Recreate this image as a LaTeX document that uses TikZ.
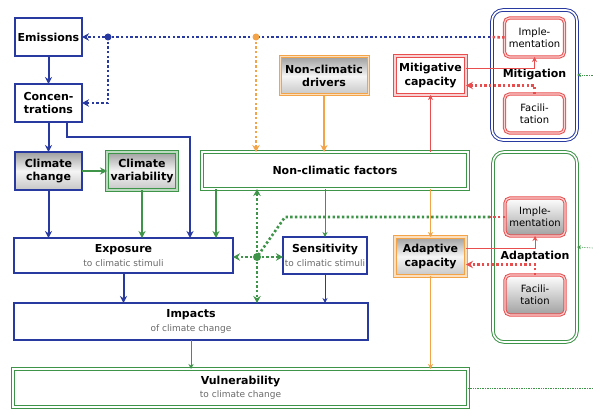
\documentclass[tikz,border=0pt]{standalone}
\usepackage{fontspec}
\setmainfont{DejaVu Sans}
\usetikzlibrary{positioning,arrows.meta,calc}
\definecolor{climblue}{RGB}{40,58,160}
\definecolor{factgreen}{RGB}{62,148,72}
\definecolor{driverorange}{RGB}{243,163,72}
\definecolor{policyred}{RGB}{232,78,78}
\definecolor{subgray}{RGB}{105,105,105}
\newcommand{\subline}[1]{{\fontsize{9}{11}\selectfont\mdseries\color{subgray}#1}}

\begin{document}
\begin{tikzpicture}[x=1pt, y=1pt, node distance=28pt and 25pt, >=Stealth,
		bigtext/.style={font=\fontsize{11}{13.5}\selectfont\bfseries},
		shadeFill/.style={top color=gray!75, bottom color=gray!45, middle color=gray!8},
		shadeDown/.style={top color=white, bottom color=gray!75},
		climbox/.style={draw=climblue, line width=2.6pt, rectangle, minimum width=67pt, minimum height=38pt, inner sep=1pt, outer sep=0pt, align=center, bigtext},
		varbox/.style={draw=factgreen, double=factgreen!35, double distance=1.2pt, line width=1pt, rectangle, minimum width=70pt, minimum height=38pt, inner sep=1pt, outer sep=0pt, align=center, bigtext, shadeFill},
		respbox/.style={draw=climblue, line width=1.1pt, rectangle, minimum height=35pt, inner sep=1pt, outer sep=0pt, align=center, bigtext},
		factbox/.style={draw=factgreen, double=white, double distance=1.8pt, line width=0.9pt, rectangle, minimum height=37pt, inner sep=1pt, outer sep=0pt, align=center, bigtext},
		drivbox/.style={draw=driverorange, double=driverorange!35, double distance=1pt, line width=1pt, rectangle, minimum width=88pt, minimum height=38pt, inner sep=1pt, outer sep=0pt, align=center, bigtext, shadeFill},
		capbox/.style={double distance=1.2pt, line width=1pt, rectangle, minimum width=71pt, minimum height=39pt, inner sep=1pt, outer sep=0pt, align=center, bigtext},
		measure/.style={draw=policyred, double=policyred!25, double distance=1.2pt, line width=1pt, rounded corners=5pt, minimum width=60pt, minimum height=39pt, inner sep=1pt, outer sep=0pt, align=center, font=\fontsize{10}{12}\selectfont},
		policy/.style={double=white, double distance=1.6pt, line width=1pt, rounded corners=11pt, minimum width=85pt, inner sep=0pt, outer sep=0pt},
		grouplabel/.style={inner sep=0pt, bigtext},
		mainArrow/.style={line width=2pt, -{Stealth[length=7pt, width=7pt]}},
		sideArrow/.style={line width=0.9pt, -{Stealth[length=5pt, width=5pt]}},
		dotLine/.style={line width=2.6pt, dash pattern=on 2.4pt off 2.3pt},
		dotArrow/.style={dotLine, -{Stealth[length=7pt, width=7.5pt]}},
		feedLine/.style={line width=0.7pt, densely dotted, color=factgreen},
		feedArrow/.style={feedLine, -{Stealth[length=4pt, width=4pt]}}
		]
		\useasboundingbox (0,0) rectangle (593,410);
		
		% climate chain
		\node[climbox](emis) at (48.5,373) {Emissions};
		\node[climbox](conc) [below=28pt of emis] {Concen-\\trations};
		\node[climbox, shadeFill](clim) [below=30pt of conc] {Climate\\change};
		\node[varbox](climvar) [right=of clim] {Climate\\variability};
		\node[respbox, minimum width=219pt](expo) [below right=48pt and -1pt of clim.south west] {Exposure\\\subline{to climatic stimuli}};
		\node[respbox, minimum width=84pt, minimum height=37pt](sens) [right=50pt of expo] {Sensitivity\\\subline{to climatic stimuli}};
		\node[respbox, minimum width=354pt, minimum height=37pt](imp) [below right=30pt and 0pt of expo.south west] {Impacts\\\subline{of climate change}};
		\node[factbox, minimum width=455pt, minimum height=38pt](vul) [below right=29pt and -1pt of imp.south west] {Vulnerability\\\subline{to climate change}};
		
		% non-climatic side
		\node[factbox, minimum width=266pt](ncf) at (335,239.5) {Non-climatic factors};
		\node[drivbox](ncd) [above=57pt of ncf, xshift=-11pt] {Non-climatic\\drivers};
		\node[capbox, draw=policyred, double=policyred!25](mitcap) at (430.5,334.5) {Mitigative\\capacity};
		\node[capbox, draw=driverorange, double=driverorange!35, shadeFill](adcap) [below=142pt of mitcap] {Adaptive\\capacity};
		
		% responses
		\node[policy, draw=climblue, minimum height=130pt](mitgrp) at (534.5,335) {};
		\node[measure](implM) [below=8pt of mitgrp.north] {Imple-\\mentation};
		\node[measure](facM) [above=7pt of mitgrp.south] {Facili-\\tation};
		\node[grouplabel](mitlab) at (mitgrp) {Mitigation};
		\node[policy, draw=factgreen, minimum width=84pt, minimum height=190pt](adgrp) at (535,163) {};
		\node[measure, shadeDown, minimum height=38pt](implA) [below=46pt of adgrp.north] {Imple-\\mentation};
		\node[measure, shadeDown, minimum height=40pt](facA) [above=27pt of adgrp.south] {Facili-\\tation};
		\node[grouplabel](adlab) at (535,153.5) {Adaptation};
		
		\coordinate (cbend) at (190,273);
		\coordinate (nf) at ([xshift=14pt]ncf.south west);
		\coordinate (bdot) at (108,373);
		\coordinate (odot) at (256,373);
		\coordinate (gdot) at (257,153);
		\coordinate (mgate) at (490,373);
		\coordinate (agate) at (490,193);
		\coordinate (gturn) at (285,193);
		\coordinate (rmit) at (593,335);
		\coordinate (radp) at (593,162);
		\coordinate (rvul) at (593,22);
		
		\draw[mainArrow, climblue] (emis) -- (conc);
		\draw[mainArrow, climblue] (conc) -- (clim);
		\draw[mainArrow, climblue] ([xshift=18.5pt]conc.south) |- (cbend) -- (cbend |- expo.north);
		\draw[mainArrow, factgreen] (clim) -- (climvar);
		\draw[mainArrow, climblue] (clim) -- (clim |- expo.north);
		\draw[mainArrow, factgreen] (climvar) -- (climvar |- expo.north);
		\draw[mainArrow, factgreen] (nf) -- (nf |- expo.north);
		\draw[mainArrow, climblue] (expo) -- (expo |- imp.north);
		\draw[sideArrow, factgreen] (ncf.south -| sens) -- (sens);
		\draw[sideArrow, climblue] (sens) -- (sens |- imp.north);
		\draw[sideArrow, factgreen] (imp) -- (imp |- vul.north);
		\draw[mainArrow, driverorange] (ncd) -- (ncd |- ncf.north);
		\draw[sideArrow, driverorange] (ncf.south -| adcap) -- (adcap);
		\draw[sideArrow, driverorange] (adcap) -- (adcap |- vul.north);
		\draw[sideArrow, policyred] (ncf.north -| mitcap) -- (mitcap);
		\draw[sideArrow, policyred] ([yshift=7pt]mitcap.east) -| (implM.south);
		\draw[sideArrow, policyred] ([yshift=8pt]adcap.east) -| (implA.south);
		\draw[dotArrow, policyred] (facM.north) |- ([yshift=-10pt]mitcap.east);
		\draw[dotArrow, policyred] (facA.north) |- ([yshift=-8pt]adcap.east);
		
		% dotted links
		\draw[dotArrow, climblue] (mgate) -- (emis.east);
		\draw[dotLine, policyred] (implM.west) -- (mgate);
		\draw[dotArrow, climblue] (bdot) |- (conc.east);
		\draw[dotArrow, driverorange] (odot) -- (odot |- ncf.north);
		\fill[climblue] (bdot) circle (3.5pt);
		\fill[driverorange] (odot) circle (3.5pt);
		\draw[dotLine, policyred] (implA.west) -- (agate);
		\draw[dotLine, factgreen] (agate) -- (gturn) -- (gdot);
		\draw[dotArrow, factgreen] (gdot) -- (gdot -| expo.east);
		\draw[dotArrow, factgreen] (gdot) -- (gdot -| sens.west);
		\draw[dotArrow, factgreen] (gdot) -- (gdot |- ncf.south);
		\draw[dotArrow, factgreen] (gdot) -- (gdot |- imp.north);
		\fill[factgreen] (gdot) circle (4pt);
		
		\draw[feedArrow] (rmit) -- (mitgrp.east);
		\draw[feedArrow] (radp) -- (adgrp.east);
		\draw[feedLine] (vul.east) -- (rvul);
\end{tikzpicture}
\end{document}
